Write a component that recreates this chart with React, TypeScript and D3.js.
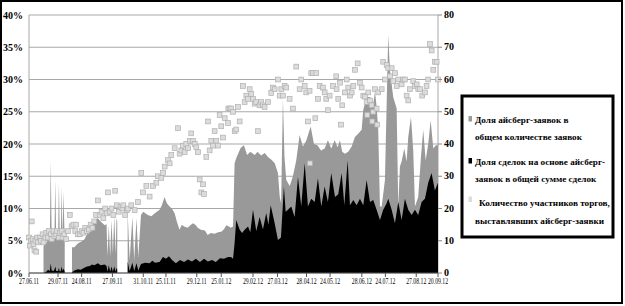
import React from "react";
import * as d3 from "d3";

// ---- data (day = days since 27.06.11) ----
const START = new Date(2011, 5, 27);
const tickLabels = [
  "27.06.11", "29.07.11", "24.08.11", "27.09.11", "31.10.11", "25.11.11", "29.12.11", "25.01.12",
  "29.02.12", "27.03.12", "28.04.12", "24.05.12", "28.06.12", "24.07.12", "27.08.12", "20.09.12",
];
const leftTicks = [0, 5, 10, 15, 20, 25, 30, 35, 40];
const rightTicks = [0, 10, 20, 30, 40, 50, 60, 70, 80];
const legendLabels = [
  ["Доля айсберг-заявок в", "общем количестве заявок"],
  ["Доля сделок на основе айсберг-", "заявок в общей сумме сделок"],
  ["Количество участников торгов,", "выставлявших айсберг-заявки"],
];

// share of iceberg orders in total orders, % : [day, value]
const orderShare: [number, number | null][] = [
  [16, 4.2], [18, 4.6], [20, 4.8], [21, 6.5], [22, 4.9], [23, 5.2], [24, 17.5], [25, 5.4], [27, 5], [28, 5.2],
  [29, 14.4], [30, 5.2], [32, 5], [33, 14], [34, 5.1], [35, 5], [36, 13.4], [37, 5], [38, 12.6], [39.4, 4.8],
  [43, null],
  [47.4, 4], [50, 4], [54, 4.6], [57, 4.8], [61, 5.2], [64, 6], [67, 7.4], [69.5, 7.8], [72, 8.2], [76, 8.5],
  [79, 8], [83.5, 7.4], [85.5, 7.6], [86.5, 2.5], [88, 7.4], [89.5, 2.5], [91, 8.2], [92.5, 3], [94, 8.8],
  [95.5, 3], [96.5, 8.5], [97.3, 8],
  [102, null],
  [108.8, 9.3], [111, 2], [114, 8.7], [116, 2], [118.5, 8.5], [120.5, 2.5], [123.5, 9], [126, 9.5], [129, 9.2],
  [131, 9], [135, 8.8], [138, 9.2], [141, 9.5], [144, 9.8], [146.5, 10.5], [149.5, 11.8], [152, 10.8],
  [155, 10.3], [157.5, 10], [160.5, 9.3], [163, 8], [166, 6.7], [168.5, 7.5], [171, 7.2], [175, 7],
  [178.5, 7.5], [181, 7.7], [184, 7.4], [186, 7], [189.5, 6.7], [194, 6.6], [197, 5.9], [200.5, 6.2],
  [204.5, 6.1], [208.5, 6.3], [212, 6.4], [215, 6.8], [217.5, 7.4], [220.5, 7.2], [222.5, 7], [225, 7.2],
  [226.7, 17], [229, 18], [233.5, 19.4], [237, 19.8], [240.5, 18.3], [244, 18.8], [249, 18.3], [252, 18.8],
  [256, 18.2], [260, 18.6], [263.5, 18], [267, 17.6], [271, 17], [274.5, 15.5], [276.5, 11.8], [278, 10.8],
  [280, 27], [281.7, 18], [283.7, 14.4], [287.5, 13.5], [291, 15], [294.7, 17.5], [298.4, 21.4], [302, 19.6],
  [305.7, 20.5], [310.6, 22.7], [314.2, 20], [318, 19.8], [322, 19], [326, 19.3], [329.6, 20.6], [333.3, 19.3],
  [337, 20.6], [340.3, 19.5], [342.9, 20.6], [345.4, 18.8], [348.4, 18.5], [352, 18.8], [355.8, 19.6],
  [359.4, 21.1], [363, 21.6], [366.8, 22.2], [368.6, 25.3], [372.3, 27.3], [376, 27.3], [379.6, 26.2],
  [381.5, 28.1], [383.3, 25.8], [385.1, 22.2], [387, 10.3], [388.9, 10.3], [392.5, 14.4], [394.4, 26.3],
  [396.1, 36.9], [398, 31.5], [401.6, 27.3], [405.4, 25.5], [407.2, 10.3], [409, 16.5], [410.9, 17.3],
  [413.8, 19.3], [416.4, 17.3], [418.2, 21.1], [421.2, 24.2], [423.7, 19], [425.6, 10.3], [429.2, 11.8],
  [432.2, 18], [434.7, 22.2], [437.4, 17.5], [440.2, 20], [442.9, 23.7], [445.8, 19.3], [448.7, 19.8], [451, 19.8],
];

// share of deals based on iceberg orders in total deals, % : [day, value]
const dealShare: [number, number | null][] = [
  [16, 0], [19, 0.2], [21, 0.5], [23, 0.3], [24, 1.5], [25, 0.4], [27, 0.3], [28, 0.5], [29, 1], [30, 0.3],
  [32, 0.3], [33, 0.8], [34, 0.2], [35, 0.3], [36, 1], [37, 0.3], [38, 0.7], [39.4, 0.2],
  [43, null],
  [47.4, 0.1], [50, 0.4], [54, 0.6], [57, 0.5], [61, 0.8], [64, 1], [67, 1.1], [69.5, 1.3], [72, 1.2], [76, 1.5],
  [79, 1.2], [83.5, 1.3], [85.5, 1.1], [86.5, 0.2], [88, 1.2], [89.5, 0.2], [91, 1], [92.5, 0.2], [94, 1],
  [95.5, 0.2], [96.5, 0.8], [97.3, 0.5],
  [102, null],
  [108.8, 1.8], [111, 0.3], [114, 1.6], [116, 0.3], [118.5, 1.5], [120.5, 0.4], [123.5, 1.4], [128, 1.6],
  [133, 1.5], [136, 1.9], [139, 1.6], [144, 1.7], [147.7, 2.5], [151, 2.2], [154.4, 2.6], [157.7, 2], [162, 1.5],
  [166.5, 2], [171, 1.7], [175.3, 2.1], [179.7, 1.8], [184, 2.2], [188.5, 1.7], [193, 2.2], [197.3, 1.8],
  [201.8, 2], [206, 1.7], [210.6, 2.3], [215, 2.2], [219.4, 2.5], [222.7, 2.5], [225, 2.2], [226.7, 4.6],
  [228.5, 8.2], [232.3, 6.7], [235, 6.2], [237.8, 6.7], [241.5, 7.2], [244, 6.3], [247, 9.8], [250.6, 6.5],
  [254.3, 8.7], [258, 6.8], [261.6, 9.3], [264, 7.5], [266.5, 10.5], [270.9, 7.7], [274.5, 5.1], [277.8, 5.5],
  [281.1, 13.4], [283, 9.5], [285.5, 9.8], [289.2, 10.3], [292.9, 8.7], [296.6, 14.9], [300.2, 10.3], [304, 17],
  [307.6, 10.3], [311.2, 11.5], [315, 11], [318.6, 14.7], [322.3, 10.3], [326, 13.4], [329.6, 11], [333.3, 15.5],
  [337.4, 11.8], [341, 12.2], [344.8, 15.5], [347.7, 10.5], [351.4, 17.5], [353.9, 10.5], [357.6, 11.3],
  [361.3, 10.5], [364.9, 11.5], [368.6, 10.5], [372.3, 14.4], [376, 11], [379.6, 11.3], [383.3, 9.8], [387, 8.2],
  [390.6, 9.8], [394.4, 10.8], [396.1, 11.5], [399.9, 9.8], [403.5, 7.7], [407.2, 11], [410.9, 8.2],
  [414.5, 11.5], [418.2, 9.8], [421.9, 9], [425.6, 9.8], [429.2, 9], [432.9, 11], [436.6, 11.5], [440.2, 14],
  [443.9, 15.5], [447.6, 12.8], [451, 14],
];

// number of participants placing iceberg orders (right axis) : [day, value]
const participants: [number, number][] = [
  [0, 11], [1, 8.5], [2, 10], [3, 16], [4, 10.5], [5, 9], [6, 7], [7, 10], [8, 6.6], [9, 11], [10, 9.5], [12, 11],
  [13, 10], [15, 12], [16, 9.5], [18, 11], [19, 12.5], [21, 11], [22, 13], [24, 12], [25, 10.5], [27, 13],
  [28, 11.5], [30, 12], [31, 13], [33, 11], [34, 12.5], [36, 13], [37, 11], [39, 12], [41, 10.5], [43, 13],
  [45, 18], [47, 14.5], [49, 15], [51, 13], [52, 15], [54, 12], [56, 12], [58, 13], [60, 12.5], [62, 14], [64, 13],
  [66, 13.5], [68, 15], [70, 14], [72, 16], [74, 18], [76, 22.5], [78, 18], [80, 19], [82, 17], [84, 20],
  [86, 18.5], [87, 25], [89, 19], [91, 20], [93, 18], [95, 25.5], [97, 21], [99, 19], [101, 20.5], [103, 20],
  [104, 21], [106, 18], [108, 19.5], [109, 20], [112.8, 21], [116.5, 19.5], [120.2, 22], [123.8, 31],
  [125.7, 25], [129.4, 27], [133, 23.7], [136.7, 27], [140.4, 28], [142.2, 30], [145.9, 29.5], [147.7, 31],
  [149.6, 33], [153.2, 35], [155.1, 34], [156.9, 36.6], [160.6, 38.7], [164.3, 44.9], [166.1, 37], [167.9, 38],
  [169.8, 39.5], [171.7, 37.5], [173.4, 40], [175.3, 38.7], [177.2, 41], [178.9, 43.3], [180.8, 41], [182.7, 40],
  [184.4, 39], [186.3, 37.5], [188.2, 29], [190, 25], [191.8, 27.5], [192.9, 24.5], [195.5, 36], [197.3, 47],
  [199.2, 38], [201, 41], [202.9, 39.5], [204.7, 44], [206.5, 41], [208.4, 39.5], [210.2, 49], [212, 45.5],
  [213.9, 42], [215.8, 48], [219.4, 46.5], [219.8, 51], [221.3, 51], [223, 51], [224.9, 50], [226.8, 44],
  [228.5, 44.5], [230.4, 51.5], [232.3, 47], [235.9, 58], [237.8, 53], [239.6, 55], [241.4, 54], [243.3, 57],
  [245.1, 55.5], [247, 54], [248.8, 52.5], [250.6, 53], [252.5, 44], [254.3, 52], [256.1, 53], [258, 52],
  [259.8, 51.5], [263.5, 53], [267.1, 55.8], [269, 57.5], [270.9, 57], [274.5, 60], [276.4, 55], [278.2, 57],
  [280, 55], [281.9, 58], [283.7, 57.5], [287.4, 54], [291, 51], [294.7, 64], [298.4, 57], [300.2, 60],
  [304, 58], [305.7, 56], [307.6, 47], [309.4, 56.5], [309.8, 34], [311.2, 62], [313.1, 62], [315.7, 48],
  [316.8, 62], [318.6, 54], [320.5, 58], [324.1, 57.5], [326, 56], [327.8, 54], [329.6, 50.5], [331.5, 55],
  [335.2, 58], [338.8, 61], [339.2, 57], [341, 54], [342.9, 59], [344, 46], [345.4, 52], [348.4, 56],
  [350.3, 60], [352, 57.5], [353.9, 55], [355.8, 56], [357.6, 58], [359.4, 63], [362.4, 65], [364.9, 59],
  [366.8, 57.5], [368.6, 55], [370.4, 54.7], [372.3, 53], [373, 49], [374.1, 56], [376, 53.5], [377.8, 52],
  [378.5, 47], [379.6, 50], [381.5, 57], [383.3, 51], [384, 46], [385.1, 56], [388.9, 57], [390.6, 65.5],
  [392.5, 60], [394.4, 64.5], [396.1, 63.5], [398, 61], [399.9, 63.5], [401.6, 59.5], [403.5, 62], [405.4, 58],
  [407.2, 60], [410.9, 58.5], [412.7, 60], [414.5, 60], [416.4, 55], [418.2, 53.5], [420, 57], [423.7, 59.5],
  [425.6, 58], [427.5, 58.5], [429.2, 57], [431.1, 57], [433.6, 55], [436.6, 56], [438.4, 58], [440.2, 60],
  [442.1, 71], [444, 69], [445.8, 63], [447.6, 65.5], [449.5, 65.5], [451, 60],
];

const FONT = "Liberation Serif, Times New Roman, serif";
const W = 625;
const H = 306;
const PL = 29;
const PR = 438;
const PT = 15;
const PB = 273;

const parseD = d3.timeParse("%d.%m.%y");
const toDate = (d: number) => new Date(START.getTime() + d * 86400000);

export default function App() {
  const tickDates = tickLabels.map((t) => parseD(t) as Date);
  const x = d3.scaleTime().domain([START, tickDates[tickDates.length - 1]]).range([PL, PR]);
  const yL = d3.scaleLinear().domain([0, 40]).range([PB, PT]);
  const yR = d3.scaleLinear().domain([0, 80]).range([PB, PT]);

  const area = d3
    .area<[number, number | null]>()
    .defined((d) => d[1] !== null)
    .x((d) => x(toDate(d[0])))
    .y0(yL(0))
    .y1((d) => yL(d[1] as number));

  const sq = 4.8;

  return (
    <svg width={W} height={H} style={{ position: "absolute", left: 0, top: 0, background: "#fff" }}>
      <rect x={1} y={1} width={621} height={302} fill="#fff" stroke="#000" strokeWidth={2} />
      {leftTicks.map((t) => (
        <line key={"g" + t} x1={PL} x2={PR} y1={yL(t)} y2={yL(t)} stroke="#a8a8a8" strokeWidth={1.2} />
      ))}
      <line x1={PL} x2={PL} y1={PT} y2={PB} stroke="#a8a8a8" strokeWidth={1} />
      <line x1={PR} x2={PR} y1={PT} y2={PB} stroke="#a8a8a8" strokeWidth={1} />
      <path d={area(orderShare) || ""} fill="#999999" />
      <path d={area(dealShare) || ""} fill="#000" />
      {participants.map((p, i) => (
        <rect
          key={"p" + i}
          x={x(toDate(p[0])) - sq / 2}
          y={yR(p[1]) - sq / 2}
          width={sq}
          height={sq}
          fill="#dcdcdc"
          stroke="#b0b0b0"
          strokeWidth={0.7}
        />
      ))}
      <line x1={PL} x2={PR} y1={PB} y2={PB} stroke="#555" strokeWidth={1.2} />
      {tickDates.map((d, i) => (
        <g key={"xt" + i}>
          <line x1={x(d)} x2={x(d)} y1={PB} y2={PB + 4} stroke="#555" strokeWidth={1} />
          <text
            transform={`translate(${x(d)},${PB + 10.5}) scale(0.72,1)`}
            textAnchor="middle"
            fontFamily={FONT}
            fontSize={8}
            fill="#000"
          >
            {tickLabels[i]}
          </text>
        </g>
      ))}
      {leftTicks.map((t) => (
        <text key={"l" + t} x={23} y={yL(t) + 3.5} textAnchor="end" fontFamily={FONT} fontSize={10} fontWeight="bold">
          {t + "%"}
        </text>
      ))}
      {rightTicks.map((t) => (
        <g key={"r" + t}>
          <line x1={PR} x2={PR + 4} y1={yR(t)} y2={yR(t)} stroke="#888" strokeWidth={1} />
          <text x={444} y={yR(t) + 3} textAnchor="start" fontFamily={FONT} fontSize={10} fontWeight="bold">
            {t}
          </text>
        </g>
      ))}
      <rect x={462} y={96} width={151} height={141} fill="#fff" stroke="#000" strokeWidth={3} />
      {legendLabels.map((lines, i) => {
        const markerY = [116, 158, 196.5][i];
        const base = [[122.5, 139.5], [165, 182], [206, 224]][i];
        const fills = ["#999999", "#000", "#dcdcdc"];
        return (
          <g key={"lg" + i}>
            <rect x={468.5} y={markerY} width={3.5} height={5.5} fill={fills[i]} />
            {lines.map((ln, j) => (
              <text
                key={j}
                x={i === 2 && j === 0 ? 479 : 475}
                y={base[j]}
                fontFamily={FONT}
                fontSize={9.2}
                fontWeight="bold"
              >
                {ln}
              </text>
            ))}
          </g>
        );
      })}
    </svg>
  );
}
